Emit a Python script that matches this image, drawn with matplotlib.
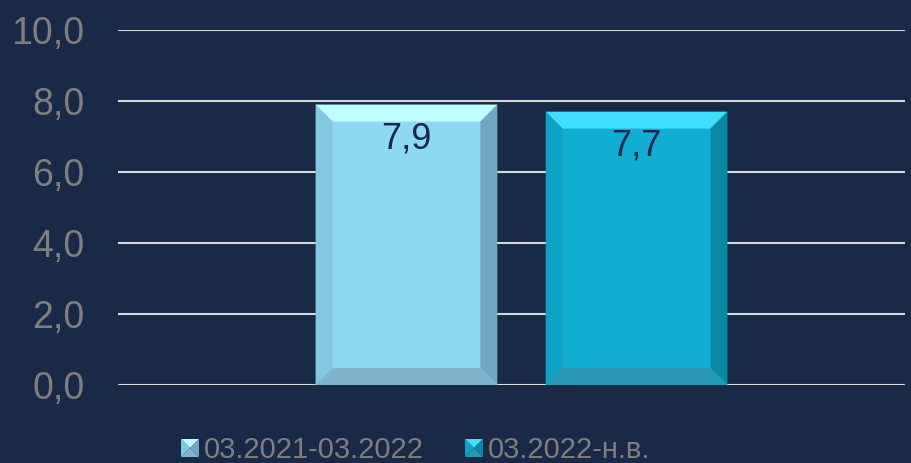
import numpy as np
import matplotlib
matplotlib.use('Agg')
import matplotlib.pyplot as plt
from matplotlib.patches import Polygon

periods = ['03.2021-03.2022', '03.2022-н.в.']
values = [7.9, 7.7]
labels = ['7,9', '7,7']
yticks = [0, 2, 4, 6, 8, 10]

BG = '#182a45'
# face, top, left, right, bottom
shades = [('#8dd8f3', '#c0ffff', '#82c8e0', '#6fa8c0', '#80b4cc'),
          ('#12aed2', '#3fe0ff', '#0fa2c4', '#0a87a2', '#2898b4')]

plt.rcParams['font.family'] = ['Liberation Sans', 'DejaVu Sans']

W, H = 912, 463
fig = plt.figure(figsize=(W / 100, H / 100), dpi=100, facecolor=BG)
x0, x1, yb, yt = 118, 905, 385, 30
ax = fig.add_axes([x0 / W, 1 - yb / H, (x1 - x0) / W, (yb - yt) / H])
ax.set_facecolor(BG)

xs = np.arange(len(values))
bw = 0.79
xlo, xhi = -1.254, 2.167
ax.set_xlim(xlo, xhi)
ax.set_ylim(0, 10)

bars = ax.bar(xs, values, width=bw, color=[s[0] for s in shades], zorder=2, linewidth=0)

# bevel edges, sized in pixels
bev = 17
dx = bev * (xhi - xlo) / (x1 - x0)
dy = bev * 10 / (yb - yt)
for b, s in zip(bars, shades):
    l, r, t = b.get_x(), b.get_x() + b.get_width(), b.get_height()
    il, ir, it, ib = l + dx, r - dx, t - dy, dy
    polys = [([(l, t), (r, t), (ir, it), (il, it)], s[1]),
             ([(l, t), (il, it), (il, ib), (l, 0)], s[2]),
             ([(r, t), (r, 0), (ir, ib), (ir, it)], s[3]),
             ([(l, 0), (r, 0), (ir, ib), (il, ib)], s[4])]
    for pts, c in polys:
        ax.add_patch(Polygon(pts, closed=True, color=c, lw=0, zorder=3))

for x, v, lab in zip(xs, values, labels):
    ax.text(x, v - 0.97, lab, ha='center', va='center', fontsize=26,
            color='#14294a', zorder=4)

ax.set_yticks(yticks)
ax.set_yticklabels([f'{t:.1f}'.replace('.', ',') for t in yticks])
ax.tick_params(axis='y', length=0, pad=24, labelsize=27, labelcolor='#7f7f7f')
ax.set_xticks([])
ax.grid(axis='y', color='#d9d9d9', lw=1.5, zorder=1)
for sp in ax.spines.values():
    sp.set_visible(False)

# legend, drawn in pixel coordinates
leg = [(181, 204), (465, 488)]
sq = 18
for (mx, tx), s, name in zip(leg, shades, periods):
    top = H - 439
    bot = top - sq
    cx, cy = mx + sq / 2, (top + bot) / 2
    tris = [([(mx, top), (mx + sq, top), (cx, cy)], s[1]),
            ([(mx, top), (cx, cy), (mx, bot)], s[2]),
            ([(mx + sq, top), (mx + sq, bot), (cx, cy)], s[3]),
            ([(mx, bot), (mx + sq, bot), (cx, cy)], s[4])]
    for pts, c in tris:
        fig.add_artist(Polygon([(p[0] / W, p[1] / H) for p in pts], closed=True,
                               color=c, lw=0, transform=fig.transFigure))
    fig.text(tx / W, (H - 458) / H, name, ha='left', va='baseline', fontsize=21,
             color='#7f7f7f')

fig.savefig('out.png', dpi=100, facecolor=BG)
